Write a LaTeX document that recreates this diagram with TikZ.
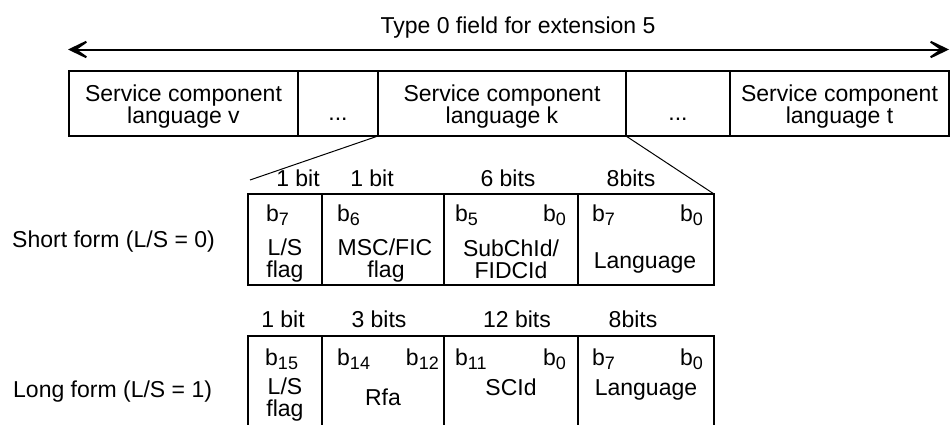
\documentclass[tikz,border=0pt]{standalone}
\usepackage{fontspec}
\setmainfont{Liberation Sans}
\usetikzlibrary{arrows.meta,calc,positioning}
\newcommand{\bitsub}[1]{b\raisebox{-4pt}{\fontsize{18}{18}\selectfont #1}}
\tikzset{
  txt/.style={anchor=base,inner sep=0pt},
  two/.style={align=center,inner sep=0pt},
  cell/.style={draw,line width=2pt,anchor=north west,minimum height=65pt,inner sep=0pt,outer sep=0pt},
  fcell/.style={draw,line width=2pt,anchor=north west,minimum height=91pt,inner sep=0pt,outer sep=0pt},
  fan/.style={line width=1pt},
  span/.style={line width=2pt,{Stealth[length=29pt,width=28pt,inset=20pt]}-{Stealth[length=29pt,width=28pt,inset=20pt]}}
}
\begin{document}
\begin{tikzpicture}[x=1pt,y=-1pt,font=\fontsize{23}{20}\selectfont]
\useasboundingbox (0,0) rectangle (950,424);
% extent of the field
\coordinate (arrL) at (68,49.5);
\coordinate (arrR) at (949,49.5);
\draw[span] (arrL) -- (arrR);
\node[txt] (title) at (518,33) {Type 0 field for extension 5};
% service component languages
\node[cell,minimum width=229pt] (svcv) at (69,71) {};
\node[cell,minimum width=80pt] (gapA) at (298,71) {};
\node[cell,minimum width=248pt] (svck) at (378,71) {};
\node[cell,minimum width=104pt] (gapB) at (626,71) {};
\node[cell,minimum width=219pt] (svct) at (730,71) {};
\node[two] (svcvt) at ($(svcv.center)+(0,3)$) {Service component\\language v};
\node[two] (svckt) at ($(svck.center)+(0,3)$) {Service component\\language k};
\node[two] (svctt) at ($(svct.center)+(0,3)$) {Service component\\language t};
\node[txt] (dotsA) at (338,120) {...};
\node[txt] (dotsB) at (678,120) {...};
% short form
\node[txt,anchor=base west] (shortlbl) at (12,247) {Short form (L/S = 0)};
\node[fcell,minimum width=74pt] (sLS) at (248,194) {};
\node[fcell,minimum width=122pt] (sMSC) at (322,194) {};
\node[fcell,minimum width=134pt] (sSub) at (444,194) {};
\node[fcell,minimum width=136pt] (sLang) at (578,194) {};
\node[txt] (sw1) at (298,186) {1 bit};
\node[txt] (sw2) at (372,186) {1 bit};
\node[txt] (sw3) at (508,186) {6 bits};
\node[txt] (sw4) at (631,186) {8bits};
\node[txt,anchor=base west] (sb7) at (266,221) {\bitsub{7}};
\node[txt,anchor=base west] (sb6) at (337,221) {\bitsub{6}};
\node[txt,anchor=base west] (sb5) at (455,221) {\bitsub{5}};
\node[txt,anchor=base east] (sb0a) at (566,221) {\bitsub{0}};
\node[txt,anchor=base west] (sb7l) at (592,221) {\bitsub{7}};
\node[txt,anchor=base east] (sb0b) at (703,221) {\bitsub{0}};
\node[txt] (sLSa) at (285,255) {L/S};
\node[txt] (sLSb) at (285,277) {flag};
\node[txt] (sMSCa) at (385,255) {MSC/FIC};
\node[txt] (sMSCb) at (386,277) {flag};
\node[txt] (sSuba) at (511,256) {SubChId/};
\node[txt] (sSubb) at (511,278) {FIDCId};
\node[txt] (sLangt) at (645,268) {Language};
% long form
\node[txt,anchor=base west] (longlbl) at (13,397) {Long form (L/S = 1)};
\node[fcell,minimum width=74pt] (lLS) at (248,336) {};
\node[fcell,minimum width=122pt] (lRfa) at (322,336) {};
\node[fcell,minimum width=134pt] (lSC) at (444,336) {};
\node[fcell,minimum width=136pt] (lLang) at (578,336) {};
\node[txt] (lw1) at (283,327) {1 bit};
\node[txt] (lw2) at (379,327) {3 bits};
\node[txt] (lw3) at (517,327) {12 bits};
\node[txt] (lw4) at (633,327) {8bits};
\node[txt,anchor=base west] (lb15) at (265,365) {\bitsub{15}};
\node[txt,anchor=base west] (lb14) at (337,365) {\bitsub{14}};
\node[txt,anchor=base east] (lb12) at (439,365) {\bitsub{12}};
\node[txt,anchor=base west] (lb11) at (455,365) {\bitsub{11}};
\node[txt,anchor=base east] (lb0a) at (566,365) {\bitsub{0}};
\node[txt,anchor=base west] (lb7) at (592,365) {\bitsub{7}};
\node[txt,anchor=base east] (lb0b) at (703,365) {\bitsub{0}};
\node[txt] (lLSa) at (285,394) {L/S};
\node[txt] (lLSb) at (285,416) {flag};
\node[txt] (lRfat) at (383,405) {Rfa};
\node[txt] (lSCt) at (511,395) {SCId};
\node[txt] (lLangt) at (646,395) {Language};
% zoom onto language k
\coordinate (fanL) at (250,180);
\draw[fan] (svck.south west) -- (fanL);
\draw[fan] (svck.south east) -- (sLang.north east);
\end{tikzpicture}
\end{document}
